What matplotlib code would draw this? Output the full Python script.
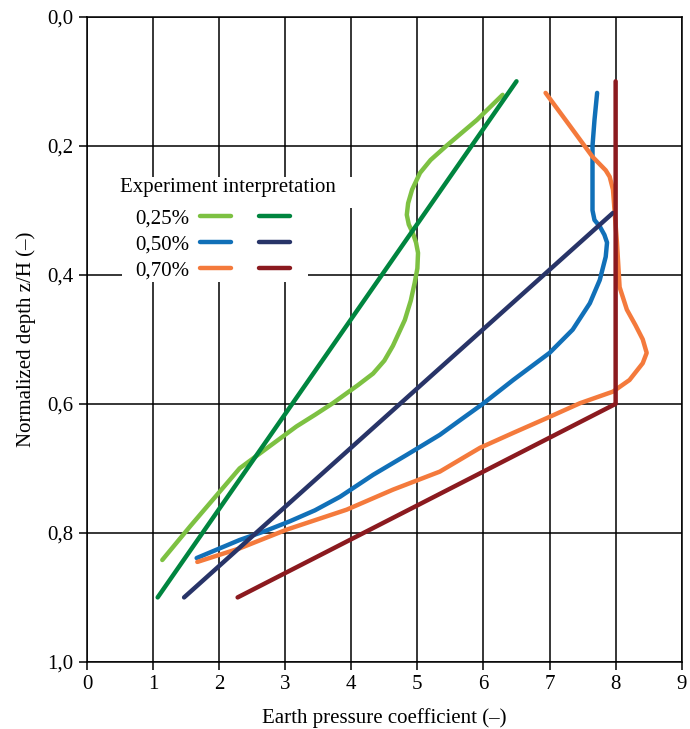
import numpy as np
import matplotlib.pyplot as plt
from matplotlib.patches import Rectangle
from matplotlib.legend_handler import HandlerTuple

plt.rcParams['font.family'] = ['Liberation Serif', 'DejaVu Serif']

# experiment curves (x = earth pressure coefficient, y = z/H)
exp025_x = [6.29, 5.90, 5.44, 5.20, 5.04, 4.92, 4.86, 4.84, 4.87, 4.93, 4.98, 5.01, 5.00, 4.96,
            4.90, 4.81, 4.63, 4.50, 4.33, 4.10, 3.72, 3.45, 3.17, 2.72, 2.31, 2.01, 1.56, 1.14]
exp025_y = [0.121, 0.160, 0.200, 0.222, 0.242, 0.268, 0.289, 0.307, 0.322, 0.335, 0.350, 0.366, 0.390, 0.412,
            0.440, 0.470, 0.510, 0.533, 0.553, 0.571, 0.599, 0.617, 0.635, 0.669, 0.700, 0.736, 0.790, 0.842]
exp050_x = [7.72, 7.68, 7.65, 7.65, 7.65, 7.68, 7.76, 7.83, 7.87, 7.85, 7.76, 7.61, 7.35, 7.00, 6.45, 5.99,
            5.65, 5.34, 4.84, 4.33, 3.83, 3.45, 3.07, 2.70, 2.31, 1.66]
exp050_y = [0.118, 0.160, 0.200, 0.253, 0.300, 0.315, 0.325, 0.338, 0.350, 0.372, 0.408, 0.444, 0.485, 0.521,
            0.563, 0.600, 0.625, 0.648, 0.679, 0.710, 0.744, 0.765, 0.782, 0.797, 0.811, 0.839]
exp070_x = [6.94, 7.30, 7.65, 7.85, 7.91, 7.96, 8.02, 8.06, 8.17, 8.30, 8.41, 8.47, 8.41, 8.21, 7.96, 7.46,
            6.96, 6.45, 5.95, 5.34, 4.63, 3.93, 3.02, 2.31, 1.67]
exp070_y = [0.118, 0.168, 0.217, 0.238, 0.248, 0.268, 0.350, 0.419, 0.454, 0.478, 0.500, 0.521, 0.537, 0.563,
            0.581, 0.599, 0.622, 0.645, 0.668, 0.705, 0.733, 0.764, 0.795, 0.824, 0.845]

# interpretation lines
int025_x = [6.50, 1.07]
int025_y = [0.10, 0.90]
int050_x = [7.96, 1.47]
int050_y = [0.304, 0.90]
int070_x = [8.0, 8.0, 2.28]
int070_y = [0.10, 0.60, 0.90]

labels = ['0,25%', '0,50%', '0,70%']
exp_colors = ['#7DC142', '#1170B8', '#F47A3C']
int_colors = ['#00853F', '#283468', '#8B1A1F']

fig = plt.figure(figsize=(6.9, 7.29), dpi=100)
ax = fig.add_axes([0.126, 0.092, 0.862, 0.885])

lw = 3.2
fs = 15
exps = [(exp025_x, exp025_y), (exp050_x, exp050_y), (exp070_x, exp070_y)]
ints = [(int025_x, int025_y), (int050_x, int050_y), (int070_x, int070_y)]
handles = []
for (ex, ey), (ix, iy), ce, ci in zip(exps, ints, exp_colors, int_colors):
    h1, = ax.plot(ex, ey, color=ce, lw=lw, solid_capstyle='round', solid_joinstyle='round', zorder=3)
    h2, = ax.plot(ix, iy, color=ci, lw=lw, solid_capstyle='round', solid_joinstyle='round', zorder=4)
    handles.append((h1, h2))

ax.set_xlim(0, 9)
ax.set_ylim(1.0, 0.0)
ax.set_xticks(np.arange(0, 10))
ax.set_xticklabels([str(i) for i in range(10)])
yt = np.arange(0, 1.01, 0.2)
ax.set_yticks(yt)
ax.set_yticklabels([f'{v:.1f}'.replace('.', ',') for v in yt])
ax.grid(True, color='black', lw=1.1)
ax.set_axisbelow(True)
for s in ax.spines.values():
    s.set_color('black')
    s.set_linewidth(1.1)
ax.tick_params(direction='out', length=6, width=1.1, labelsize=fs, colors='black')

ax.set_xlabel('Earth pressure coefficient (\u2013)', fontsize=fs, labelpad=10)
ax.set_ylabel('Normalized depth z/H (\u2013)', fontsize=fs, labelpad=8)

# white boxes behind the legend
ax.add_patch(Rectangle((0.0387, 0.704), 0.407, 0.048, transform=ax.transAxes,
                       facecolor='white', edgecolor='none', zorder=2))
ax.add_patch(Rectangle((0.0588, 0.589), 0.3126, 0.116, transform=ax.transAxes,
                       facecolor='white', edgecolor='none', zorder=2))
ax.text(0.0555, 0.735, 'Experiment interpretation', transform=ax.transAxes,
        fontsize=fs, ha='left', va='center', zorder=6)

leg = ax.legend(handles, labels, handler_map={tuple: HandlerTuple(ndivide=None, pad=1.35)},
                fontsize=fs, markerfirst=False, handlelength=4.33, handletextpad=0.5,
                labelspacing=0.3, loc='upper left', bbox_to_anchor=(0.082, 0.702),
                borderaxespad=0, borderpad=0, frameon=False)
leg.set_zorder(5)

fig.savefig('out.png', dpi=100)
